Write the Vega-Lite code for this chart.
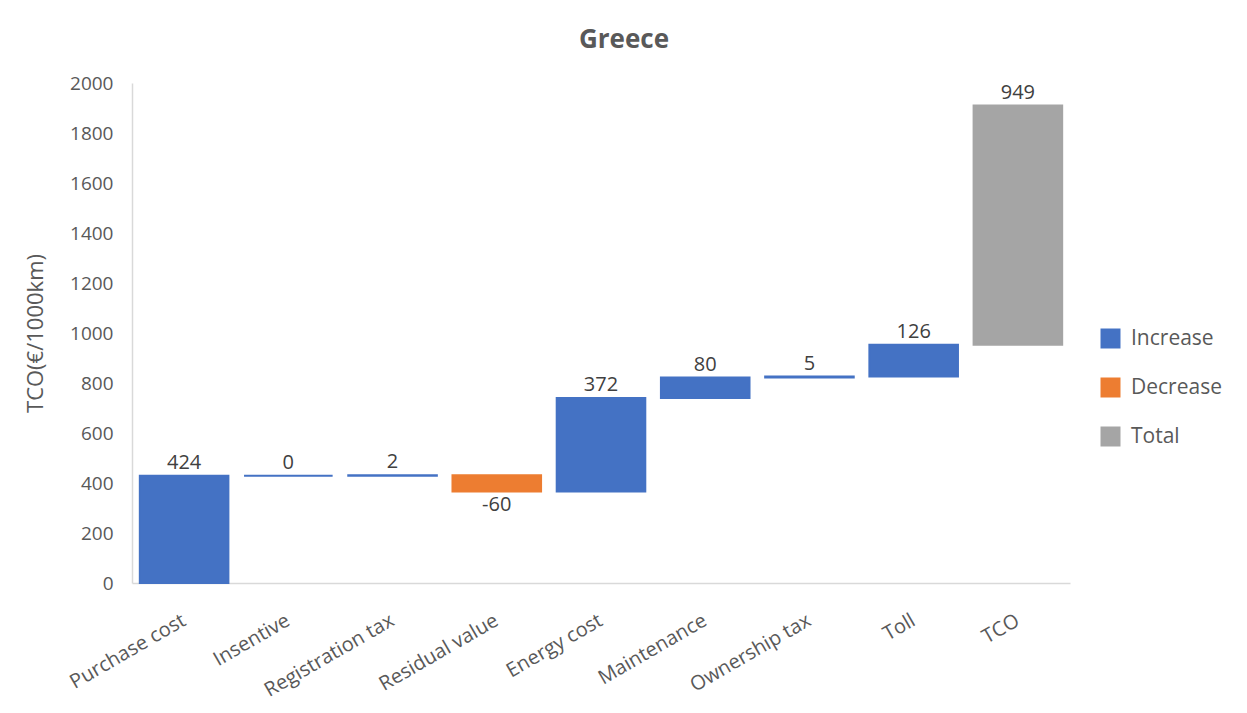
{
  "$schema": "https://vega.github.io/schema/vega-lite/v6.json",
  "autosize": {"type": "none"},
  "padding": {"left": 132, "top": 83, "right": 177, "bottom": 130},
  "width": 938,
  "height": 500,
  "background": "white",
  "title": {
    "text": "Greece",
    "anchor": "middle",
    "dx": 23,
    "offset": 21,
    "font": "Open Sans",
    "fontSize": 26,
    "fontWeight": "bold",
    "color": "#595959"
  },
  "config": {
    "view": {"stroke": null},
    "font": "Open Sans"
  },
  "data": {
    "values": [
      {"item": "Purchase cost", "start": 0, "end": 429, "label": "424", "type": "Increase"},
      {"item": "Insentive", "start": 429, "end": 429, "label": "0", "type": "Increase"},
      {"item": "Registration tax", "start": 429, "end": 431, "label": "2", "type": "Increase"},
      {"item": "Residual value", "start": 431, "end": 366, "label": "-60", "type": "Decrease"},
      {"item": "Energy cost", "start": 366, "end": 740, "label": "372", "type": "Increase"},
      {"item": "Maintenance", "start": 740, "end": 822, "label": "80", "type": "Increase"},
      {"item": "Ownership tax", "start": 822, "end": 826, "label": "5", "type": "Increase"},
      {"item": "Toll", "start": 826, "end": 953, "label": "126", "type": "Increase"},
      {"item": "TCO", "start": 953, "end": 1910, "label": "949", "type": "Total"}
    ]
  },
  "encoding": {
    "x": {
      "field": "item",
      "type": "nominal",
      "sort": null,
      "scale": {"paddingInner": 0.15, "paddingOuter": 0.075},
      "axis": {
        "title": null,
        "labelAngle": -30,
        "labelAlign": "right",
        "labelBaseline": "top",
        "labelPadding": 27,
        "labelOffset": -5,
        "labelFontSize": 20,
        "labelColor": "#595959",
        "ticks": false,
        "domainColor": "#d9d9d9",
        "domainWidth": 1.5
      }
    }
  },
  "layer": [
    {
      "mark": {"type": "bar", "strokeWidth": 2},
      "encoding": {
        "y": {
          "field": "start",
          "type": "quantitative",
          "scale": {"domain": [0, 2000], "nice": false},
          "axis": {
            "title": "TCO(€/1000km)",
            "titleFontSize": 22,
            "titleFontWeight": "normal",
            "titleColor": "#595959",
            "titlePadding": 22,
            "format": "d",
            "values": [0, 200, 400, 600, 800, 1000, 1200, 1400, 1600, 1800, 2000],
            "labelFontSize": 19,
            "labelColor": "#595959",
            "labelPadding": 19,
            "ticks": false,
            "grid": false,
            "domainColor": "#d9d9d9",
            "domainWidth": 1.5
          }
        },
        "y2": {"field": "end"},
        "color": {
          "field": "type",
          "type": "nominal",
          "scale": {"domain": ["Increase", "Decrease", "Total"], "range": ["#4472C4", "#ED7D31", "#A5A5A5"]},
          "legend": {
            "title": null,
            "orient": "none",
            "legendX": 968,
            "legendY": 245,
            "symbolType": "square",
            "symbolSize": 400,
            "symbolStrokeWidth": 0,
            "labelFontSize": 21,
            "labelColor": "#595959",
            "labelOffset": 10,
            "rowPadding": 27
          }
        },
        "stroke": {
          "field": "type",
          "type": "nominal",
          "scale": {"domain": ["Increase", "Decrease", "Total"], "range": ["#4472C4", "#ED7D31", "#A5A5A5"]},
          "legend": null
        }
      }
    },
    {
      "transform": [{"filter": "datum.type != 'Decrease'"}],
      "mark": {"type": "text", "baseline": "bottom", "dy": -3, "fontSize": 20, "color": "#404040"},
      "encoding": {
        "y": {"field": "end", "type": "quantitative"},
        "text": {"field": "label"}
      }
    },
    {
      "transform": [{"filter": "datum.type == 'Decrease'"}],
      "mark": {"type": "text", "baseline": "top", "dy": 3, "fontSize": 20, "color": "#404040"},
      "encoding": {
        "y": {"field": "end", "type": "quantitative"},
        "text": {"field": "label"}
      }
    }
  ]
}
